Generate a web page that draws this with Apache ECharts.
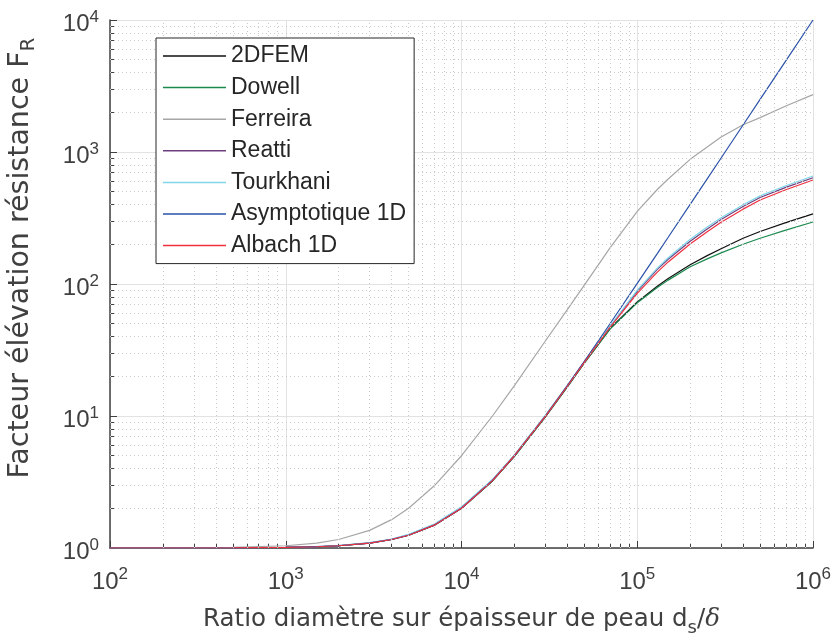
<!DOCTYPE html>
<html>
<head>
<meta charset="utf-8">
<script src="https://cdn.jsdelivr.net/npm/echarts@6/dist/echarts.min.js"></script>
<style>
html,body{margin:0;padding:0;background:#fff;}
#chart{width:835px;height:644px;}
</style>
</head>
<body>
<div id="chart"></div>
<script>
// ---- Data ----
const ratio     = [100, 200, 500, 1000, 1500, 2000, 3000, 4000, 5000, 7000, 10000, 15000, 20000, 30000, 40000, 50000, 70000, 100000, 130000, 150000, 200000, 250000, 300000, 400000, 500000, 700000, 1000000];
const fem2d     = [1, 1, 1.002, 1.01, 1.022, 1.04, 1.09, 1.16, 1.25, 1.49, 2.0, 3.22, 4.95, 9.85, 16.6, 25.3, 46, 73, 96, 110, 140, 164, 185, 222, 250, 292, 340];
const dowell    = [1, 1, 1.002, 1.01, 1.022, 1.04, 1.09, 1.16, 1.25, 1.49, 2.0, 3.22, 4.95, 9.85, 16.6, 25.2, 45.5, 72, 94, 107, 135, 155, 172, 200, 222, 256, 295];
const ferreira  = [1.0004, 1.0016, 1.01, 1.04, 1.09, 1.16, 1.36, 1.64, 2.0, 2.96, 5.0, 10, 17, 37, 64, 98, 188, 355, 520, 625, 880, 1090, 1300, 1610, 1820, 2230, 2720];
const reatti    = [1, 1, 1.003, 1.01, 1.023, 1.042, 1.095, 1.165, 1.26, 1.5, 2.03, 3.28, 5.03, 10.05, 16.9, 25.7, 47.6, 88, 129, 154, 211, 261, 308, 386, 452, 540, 638];
const tourkhani = [1, 1, 1.003, 1.011, 1.024, 1.045, 1.1, 1.17, 1.27, 1.52, 2.05, 3.3, 5.08, 10.1, 17, 25.8, 48, 90, 132, 158, 218, 270, 318, 398, 465, 555, 658];
const asympt1d  = [1.0001, 1.0004, 1.0025, 1.01, 1.0225, 1.04, 1.09, 1.16, 1.25, 1.49, 2.0, 3.25, 5.0, 10.0, 17.0, 26.0, 50.0, 101, 170, 226, 401, 626, 901, 1601, 2501, 4901, 10001];
const albach1d  = [1, 1, 1.002, 1.01, 1.022, 1.04, 1.09, 1.16, 1.25, 1.49, 2.0, 3.24, 5.0, 9.95, 16.8, 25.5, 47, 85, 123, 147, 201, 249, 294, 369, 433, 518, 613];

const seriesNames  = ['2DFEM', 'Dowell', 'Ferreira', 'Reatti', 'Tourkhani', 'Asymptotique 1D', 'Albach 1D'];
const seriesValues = [fem2d, dowell, ferreira, reatti, tourkhani, asympt1d, albach1d];
const seriesColors = ['#111111', '#1b8a4f', '#a6a6a6', '#6e3f7e', '#7fd6ea', '#2a52a8', '#f0303f'];

const xMin = 100, xMax = 1000000, yMin = 1, yMax = 10000;
function minorValues(lo, hi) {
  const out = [];
  for (let d = lo; d < hi; d *= 10) for (let k = 2; k <= 9; k++) out.push(d * k);
  return out;
}
const xMinor = minorValues(xMin, xMax);
const yMinor = minorValues(yMin, yMax);

const axisColor = '#404040';
const FONT = '"Liberation Sans", Arial, Helvetica, sans-serif';
const WIDE = '"DejaVu Sans", Verdana, sans-serif';
const tickRich = {
  b: { fontSize: 24, lineHeight: 32, fontFamily: FONT, color: axisColor },
  s: { fontSize: 17, lineHeight: 16, verticalAlign: 'top', fontFamily: FONT, color: axisColor }
};
const powFmt = v => '{b|10}{s|' + Math.round(Math.log10(v)) + '}';

const chart = echarts.init(document.getElementById('chart'), null, { renderer: 'canvas' });

const series = seriesNames.map((n, i) => ({
  name: n,
  type: 'line',
  xAxisIndex: 0, yAxisIndex: 0,
  data: ratio.map((x, j) => [x, seriesValues[i][j]]),
  symbol: 'none',
  smooth: false,
  z: 3,
  lineStyle: { color: seriesColors[i], width: 1.2 },
  itemStyle: { color: seriesColors[i] },
  animation: false
}));

const minorGridStyle = { type: [1, 3], color: '#cbcbcb', width: 1 };
series.unshift({
  name: '_grid',
  type: 'line',
  xAxisIndex: 0, yAxisIndex: 0,
  data: [],
  z: 1,
  silent: true,
  animation: false,
  markLine: {
    silent: true,
    animation: false,
    symbol: ['none', 'none'],
    label: { show: false },
    lineStyle: minorGridStyle,
    emphasis: { disabled: true },
    data: xMinor.map(v => ({ xAxis: v })).concat(yMinor.map(v => ({ yAxis: v })))
  }
});

const option = {
  backgroundColor: '#ffffff',
  animation: false,
  grid: { left: 110, right: 22, top: 20, bottom: 96, containLabel: false },
  legend: {
    data: seriesNames,
    orient: 'vertical',
    left: 156, top: 38,
    padding: [6, 8, 6, 7],
    icon: 'rect',
    itemWidth: 63, itemHeight: 1.5, itemGap: 7.6,
    textStyle: { fontSize: 23, lineHeight: 24, color: '#262626', fontFamily: FONT },
    borderColor: '#262626', borderWidth: 1,
    backgroundColor: '#ffffff',
    borderRadius: 0,
    selectedMode: false,
    z: 10
  },
  xAxis: [{
    type: 'log', logBase: 10, min: xMin, max: xMax,
    gridIndex: 0,
    position: 'bottom',
    name: '{n|Ratio diamètre sur épaisseur de peau d}{sub|s}{n|/}{d|δ}',
    nameLocation: 'middle',
    nameGap: 55,
    nameTextStyle: {
      rich: {
        n: { fontSize: 24.5, lineHeight: 34, fontFamily: WIDE, color: axisColor },
        sub: { fontSize: 18, lineHeight: 17, verticalAlign: 'bottom', fontFamily: WIDE, color: axisColor },
        d: { fontSize: 24.5, lineHeight: 34, fontStyle: 'italic', fontFamily: '"DejaVu Serif", serif', color: axisColor }
      }
    },
    axisLine: { show: true, lineStyle: { color: axisColor, width: 1.5 } },
    axisTick: { show: true, inside: true, length: 7, lineStyle: { color: axisColor, width: 1 } },
    axisLabel: { formatter: powFmt, rich: tickRich, margin: 18, hideOverlap: false, showMinLabel: true, showMaxLabel: true },
    splitLine: { show: true, lineStyle: { color: '#e2e2e2', width: 1 } }
  }, {
    type: 'log', logBase: 10, min: xMin, max: xMax,
    gridIndex: 0,
    position: 'bottom',
    axisLine: { show: false },
    axisLabel: { show: false },
    splitLine: { show: false },
    axisTick: { show: true, inside: true, length: 4, customValues: xMinor, lineStyle: { color: axisColor, width: 1 } }
  }],
  yAxis: [{
    type: 'log', logBase: 10, min: yMin, max: yMax,
    gridIndex: 0,
    position: 'left',
    axisLine: { show: true, lineStyle: { color: axisColor, width: 1.5 } },
    axisTick: { show: true, inside: true, length: 7, lineStyle: { color: axisColor, width: 1 } },
    axisLabel: { formatter: powFmt, rich: tickRich, margin: 11, padding: [9, 0, 0, 0], hideOverlap: false, showMinLabel: true, showMaxLabel: true },
    splitLine: { show: true, lineStyle: { color: '#e2e2e2', width: 1 } }
  }, {
    type: 'log', logBase: 10, min: yMin, max: yMax,
    gridIndex: 0,
    position: 'left',
    axisLine: { show: false },
    axisLabel: { show: false },
    splitLine: { show: false },
    axisTick: { show: true, inside: true, length: 4, customValues: yMinor, lineStyle: { color: axisColor, width: 1 } }
  }],
  graphic: [{
    type: 'text',
    x: 21, y: 258,
    rotation: Math.PI / 2,
    style: {
      text: '{n|Facteur élévation résistance F}{s|R}',
      align: 'center',
      verticalAlign: 'middle',
      rich: {
        n: { fontSize: 28.5, lineHeight: 36, fontFamily: WIDE, fill: axisColor, color: axisColor },
        s: { fontSize: 20, lineHeight: 18, verticalAlign: 'bottom', fontFamily: WIDE, fill: axisColor, color: axisColor }
      }
    }
  }],
  series: series
};
chart.setOption(option);
</script>
</body>
</html>
